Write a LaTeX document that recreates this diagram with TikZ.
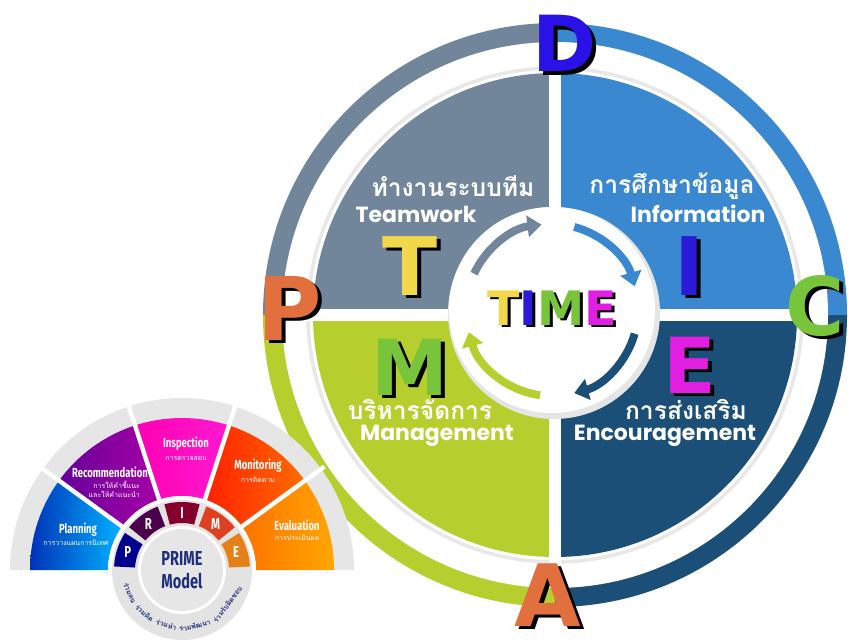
\documentclass[tikz,border=0pt]{standalone}
\usepackage{fontspec}
\setmainfont{Poppins}
\newfontfamily\thaifont[Script=Thai]{Loma}
\newfontfamily\narrowfont[FakeStretch=0.72]{Fira Sans}
\newfontfamily\letterfont{DejaVu Sans}
\usetikzlibrary{arrows.meta}

\definecolor{teamcol}{HTML}{71869A}
\definecolor{infocol}{HTML}{3A88D0}
\definecolor{enccol}{HTML}{1C4F77}
\definecolor{mgmtcol}{HTML}{B6CE2E}
\definecolor{yellowT}{HTML}{F0D84A}
\definecolor{indigoI}{HTML}{2B1BD8}
\definecolor{greenM}{HTML}{78C43A}
\definecolor{magentaE}{HTML}{E01FE0}
\definecolor{blueD}{HTML}{2A12E6}
\definecolor{orangeA}{HTML}{E2703F}
\definecolor{primenavy}{HTML}{1F2F7A}
\definecolor{fangray}{HTML}{E6E6E6}

\tikzset{
  biglabel/.style={text=white,font=\bfseries\fontsize{12.5}{13}\selectfont},
  thailabel/.style={text=white,font=\thaifont\bfseries\fontsize{14}{15}\selectfont},
  fanlabel/.style={text=white,font=\narrowfont\bfseries\fontsize{7.5}{8}\selectfont},
  fanthai/.style={text=white,font=\thaifont\fontsize{4}{5}\selectfont,align=center,inner sep=1pt},
  ringletter/.style={text=white,font=\narrowfont\bfseries\fontsize{9}{9}\selectfont},
  cartoon/.style={font=\letterfont\bfseries\fontsize{#1}{#1}\selectfont,anchor=base,inner sep=0pt},
  cartoon/.default=44,
  cyclearrow/.style={line width=4.5pt,-{Triangle[length=8pt,width=12pt]}},
}

% letter with a black drop shadow: name, base point, colour, letter, size
\newcommand{\shadowletter}[5]{%
  \node[cartoon=#5,text=black,xshift=2.2pt,yshift=-2.2pt] (#1sh) at (#2) {#4};
  \node[cartoon=#5,text=#3] (#1) at (#2) {#4};
}

\begin{document}
\begin{tikzpicture}[x=0.02cm,y=0.02cm]

	\useasboundingbox (0,0) rectangle (848,640);

	\coordinate (O) at (555,325);
	\coordinate (C) at (552,330);

	% outer ring
	\foreach \a/\c in {0/infocol,90/teamcol,180/mgmtcol,270/enccol}
	  \fill[\c] (O) -- ([shift={(\a:292)}]O) arc[start angle=\a,end angle=\a+90,radius=292] -- cycle;
	\fill[white] (O) circle (273);
	\draw[gray!18,line width=2pt] (O) circle (247);

	% four quarters
	\foreach \a/\c in {0/infocol,90/teamcol,180/mgmtcol,270/enccol}
	  \fill[\c] (O) -- ([shift={(\a:242)}]O) arc[start angle=\a,end angle=\a+90,radius=242] -- cycle;
	\draw[white,line width=7pt] ([shift={(0,-250)}]O) -- ([shift={(0,250)}]O);
	\draw[white,line width=7pt] ([shift={(-250,0)}]O) -- ([shift={(250,0)}]O);

	% centre
	\fill[gray!20] ([shift={(2,-3)}]C) circle (106);
	\fill[white] (C) circle (103);

	\foreach \s/\e/\c in {155/97/teamcol,75/16/infocol,-16/-75/enccol,-98/-165/mgmtcol}
	  \draw[cyclearrow,\c] ([shift={(\s:86)}]C) arc[start angle=\s,end angle=\e,radius=86];

	\node[cartoon=27,text=black,xshift=1.6pt,yshift=-1.6pt] (timesh) at (552,315) {TIME};
	\node[cartoon=27] (time) at (552,315)
	  {\color{yellowT}T\color{indigoI}I\color{greenM}M\color{magentaE}E};

	% quarter labels
	\node[thailabel] (teamth) at (453,454) {ทำงานระบบทีม};
	\node[biglabel] (teamen) at (416,426) {Teamwork};
	\node[thailabel] (infoth) at (672,454) {การศึกษาข้อมูล};
	\node[biglabel] (infoen) at (698,426) {Information};
	\node[thailabel] (mgmtth) at (420,231) {บริหารจัดการ};
	\node[biglabel] (mgmten) at (437,204) {Management};
	\node[thailabel] (encth) at (686,231) {การส่งเสริม};
	\node[biglabel] (encen) at (665,204) {Encouragement};

	\shadowletter{T}{410,345}{yellowT}{T}{46}
	\shadowletter{I}{690,345}{indigoI}{I}{46}
	\shadowletter{M}{410,245}{greenM}{M}{44}
	\shadowletter{E}{690,247}{magentaE}{E}{44}

	% ring letters
	\shadowletter{D}{565,568}{blueD}{D}{44}
	\shadowletter{Cc}{815,305}{greenM}{C}{46}
	\shadowletter{A}{548,14}{orangeA}{A}{49}
	\shadowletter{P}{290,300}{orangeA}{P}{50}

	%%%% PRIME model
	\coordinate (F) at (182,70);

	\fill[fangray] ([shift={(0:172)}]F) arc[start angle=0,end angle=180,radius=172] -- cycle;

	\shade[left color=blue!65!black!80!cyan,right color=cyan!70!blue]
	  ([shift={(144:152)}]F) arc[start angle=144,end angle=180,radius=152]
	  -- ([shift={(180:74)}]F) arc[start angle=180,end angle=144,radius=74] -- cycle;
	\shade[left color=violet!80!blue,right color=violet!70!magenta]
	  ([shift={(108:152)}]F) arc[start angle=108,end angle=144,radius=152]
	  -- ([shift={(144:74)}]F) arc[start angle=144,end angle=108,radius=74] -- cycle;
	\shade[left color=magenta!70!red,right color=magenta!80!red!90!white]
	  ([shift={(72:152)}]F) arc[start angle=72,end angle=108,radius=152]
	  -- ([shift={(108:74)}]F) arc[start angle=108,end angle=72,radius=74] -- cycle;
	\shade[left color=red!75!orange,right color=orange!85!red]
	  ([shift={(36:152)}]F) arc[start angle=36,end angle=72,radius=152]
	  -- ([shift={(72:74)}]F) arc[start angle=72,end angle=36,radius=74] -- cycle;
	\shade[left color=orange!90!red,right color=orange!70!yellow]
	  ([shift={(0:152)}]F) arc[start angle=0,end angle=36,radius=152]
	  -- ([shift={(36:74)}]F) arc[start angle=36,end angle=0,radius=74] -- cycle;

	\foreach \a in {36,72,108,144}
	  \draw[white,line width=2.5pt] ([shift={(\a:70)}]F) -- ([shift={(\a:176)}]F);

	\fill[white] (F) circle (74);
	\fill[gray!22] (F) circle (70);

	\foreach \a/\c/\l in {162/blue!55!black/P,126/violet!60!black/R,90/purple!70!black/I,54/red!50!brown/M,18/orange!60!brown/E}{
	  \fill[\c] ([shift={(\a-15:68)}]F) arc[start angle=\a-15,end angle=\a+15,radius=68]
	    -- ([shift={(\a+15:47)}]F) arc[start angle=\a+15,end angle=\a-15,radius=47] -- cycle;
	  \node[ringletter] (ring\l) at ([shift={(\a:57)}]F) {\l};
	}

	\fill[white] (F) circle (44);
	\fill[fangray] (F) circle (41);
	\node[font=\narrowfont\bfseries\fontsize{11.5}{12}\selectfont,text=primenavy,align=center] (prime) at (F)
	  {PRIME\\[1pt]Model};

	\foreach \a/\w [count=\i] in {204/ร่วมคน,229/ร่วมคิด,254/ร่วมทำ,283/ร่วมพัฒนา,323/ร่วมรับผิดชอบ}
	  \node[font=\thaifont\bfseries\fontsize{4}{4.5}\selectfont,text=primenavy,rotate=\a+90,inner sep=0pt] (motto\i)
	    at ([shift={(\a:57)}]F) {\w};

	% fan labels
	\node[fanlabel] (plan) at (78,110) {Planning};
	\node[fanthai] (planth) at (76,97) {การวางแผนการนิเทศ};
	\node[fanlabel] (reco) at (110,168) {Recommendation};
	\node[fanthai,align=right,anchor=north east] (recoth) at (142,161) {การให้คำชี้แนะ\\และให้คำแนะนำ};
	\node[fanlabel] (insp) at (186,196) {Inspection};
	\node[fanthai] (inspth) at (186,182) {การตรวจสอบ};
	\node[fanlabel] (moni) at (258,174) {Monitoring};
	\node[fanthai] (monith) at (258,160) {การติดตาม};
	\node[fanlabel] (eval) at (297,115) {Evaluation};
	\node[fanthai] (evalth) at (297,102) {การประเมินผล};

\end{tikzpicture}
\end{document}
